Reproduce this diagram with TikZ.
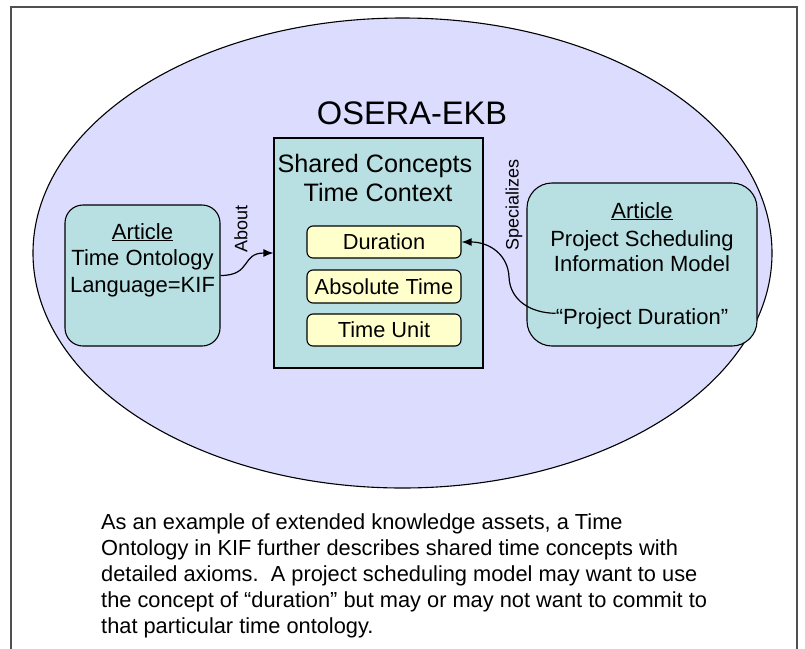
\documentclass[tikz,border=0pt]{standalone}
\usepackage{fontspec}
\setmainfont{Liberation Sans}
\usetikzlibrary{arrows.meta,shapes.geometric}
\definecolor{lav}{RGB}{220,220,255}
\definecolor{tealbox}{RGB}{184,224,226}
\definecolor{yel}{RGB}{255,255,204}
\definecolor{frmgray}{RGB}{80,80,80}
\begin{document}
\begin{tikzpicture}[x=1pt,y=-1pt,
  frm/.style={draw=frmgray,line width=1.6pt},
  tbox/.style={draw=black,fill=tealbox,line width=1.1pt,inner sep=0pt},
  ybox/.style={draw=black,fill=yel,line width=1.1pt,inner sep=0pt,rounded corners=6pt,
    minimum width=154pt,font=\fontsize{21.8}{25}\selectfont},
  lbl/.style={inner sep=0pt,font=\fontsize{22}{26}\selectfont},
  rlbl/.style={inner sep=0pt,rotate=90,font=\fontsize{18}{21}\selectfont},
  conn/.style={draw=black,line width=1.2pt,-{Latex[length=10pt,width=8pt]}}
]
\useasboundingbox (0,0) rectangle (805,648);
\fill[white] (0,0) rectangle (805,648);
\draw[frm] (11,7) rectangle (797,665);
% big ellipse
\node[ellipse,draw=black,fill=lav,line width=1.1pt,inner sep=0pt,
  minimum width=739pt,minimum height=470pt] (ekb) at (402.5,253) {};
\node[inner sep=0pt,font=\fontsize{32.6}{36}\selectfont] (title) at (412,113.5) {OSERA-EKB};
% left article box
\node[tbox,rounded corners=18pt,minimum width=155pt,minimum height=141pt] (left) at (142.5,275.5) {};
\node[lbl,anchor=base] (la1) at (142.5,239) {\underline{Article}};
\node[lbl,anchor=base] (la2) at (142.5,265) {Time Ontology};
\node[lbl,anchor=base] (la3) at (142.5,292) {Language=KIF};
% shared concepts box
\node[tbox,minimum width=209pt,minimum height=230pt] (sc) at (378.5,253) {};
\node[inner sep=0pt,anchor=base,font=\fontsize{25.2}{29}\selectfont] (sc1) at (375,172) {Shared Concepts};
\node[inner sep=0pt,anchor=base,font=\fontsize{25.2}{29}\selectfont] (sc2) at (378,201) {Time Context};
\node[ybox,minimum height=32pt] (dur) at (384,242) {Duration};
\node[ybox,minimum height=33pt] (abst) at (384,286.5) {Absolute Time};
\node[ybox,minimum height=32pt] (unit) at (384,330) {Time Unit};
% right article box
\node[tbox,rounded corners=25pt,minimum width=230pt,minimum height=163pt] (right) at (642,264.5) {};
\node[lbl,anchor=base] (ra1) at (642,218) {\underline{Article}};
\node[lbl,anchor=base] (ra2) at (642,246) {Project Scheduling};
\node[lbl,anchor=base] (ra3) at (642,271) {Information Model};
\node[lbl,anchor=base] (pdur) at (642,324) {“Project Duration”};
% labels
\node[rlbl] (about) at (241,229) {About};
\node[rlbl] (spec) at (514,205) {Specializes};
% connectors
\draw[conn] (left.east) .. controls (252,275.5) and (241,253) .. (sc.west);
\coordinate (pstart) at ([yshift=5pt]pdur.west);
\draw[conn] (pstart) .. controls (530,313) and (510,300) .. (509,277)
  .. controls (508,255) and (490,242) .. (dur.east);
% caption
\node[inner sep=0pt,anchor=north west,align=left,font=\fontsize{21.8}{26.2}\selectfont] (cap) at (101,513)
{As an example of extended knowledge assets, a Time\\
Ontology in KIF further describes shared time concepts with\\
detailed axioms.\ \ A project scheduling model may want to use\\
the concept of “duration” but may or may not want to commit to\\
that particular time ontology.};
\end{tikzpicture}
\end{document}
